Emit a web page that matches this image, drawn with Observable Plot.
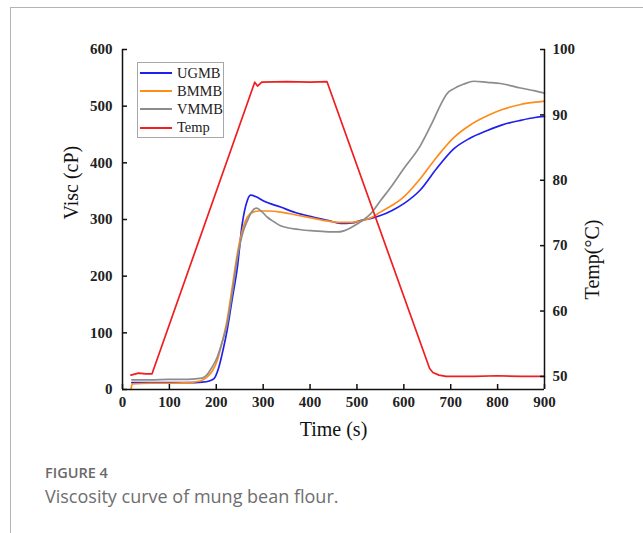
<!DOCTYPE html>
<html><head><meta charset="utf-8">
<script src="https://cdn.jsdelivr.net/npm/d3@7"></script>
<script src="https://cdn.jsdelivr.net/npm/@observablehq/plot@0.6"></script>
<style>
body{margin:0;background:#fff;}
#wrap{position:relative;width:643px;height:533px;overflow:hidden;background:#fff;}
#border{position:absolute;left:10px;top:7px;right:-2px;bottom:-2px;border-top:1px solid #b4b4b4;border-left:1px solid #b4b4b4;}
#chart{position:absolute;left:0;top:0;}
#legend{position:absolute;left:137px;top:62px;width:85px;height:74px;border:1px solid #a8a8a8;background:#fff;font-family:"Liberation Serif";font-size:14.5px;color:#222;}
.item{position:absolute;left:2px;height:18px;display:flex;align-items:center;white-space:nowrap;}
.sw{width:32px;height:2px;margin-right:5px;}
#fig{position:absolute;left:45px;top:466px;font-family:"Open Sans";font-weight:600;font-size:14.5px;line-height:14.5px;color:#6a6a6a;}
#cap{position:absolute;left:45px;top:487px;font-family:"Open Sans";font-size:18px;line-height:18px;color:#6e6e6e;}
</style></head>
<body>
<div id="wrap">
  <div id="border"></div>
  <div id="chart"></div>
  <div id="legend"></div>
  <div id="fig">FIGURE 4</div>
  <div id="cap">Viscosity curve of mung bean flour.</div>
</div>
<script>
// ---- data ----
const seriesNames = ["UGMB", "BMMB", "VMMB", "Temp"];
const seriesColors = ["#2020ee", "#ff8c1a", "#8c8c8c", "#f01e1e"];

const ugmbTime = [20, 60, 100, 140, 170, 185, 195, 205, 215, 223, 234, 245, 255, 266, 273, 285, 300, 337, 370, 408, 440, 465, 490, 507, 530, 550, 575, 600, 635, 670, 707, 740, 778, 810, 849, 880, 900];
const ugmbVisc = [12, 12, 12, 12, 13, 15, 19, 38, 72, 104, 160, 216, 290, 333, 343, 340, 333, 322, 312, 304, 298, 293, 294, 298, 302, 307, 316, 328, 352, 390, 425, 443, 457, 467, 475, 480, 482];

const bmmbTime = [18, 21, 60, 100, 140, 166, 180, 192, 202, 212, 223, 234, 245, 256, 266, 278, 291, 310, 337, 370, 408, 440, 465, 490, 507, 530, 550, 575, 600, 635, 670, 707, 740, 778, 810, 849, 880, 900];
const bmmbVisc = [0, 10, 11, 11, 12, 15, 22, 33, 51, 82, 122, 180, 240, 282, 304, 313, 315, 315, 313, 308, 302, 297, 295, 295, 297, 303, 313, 325, 340, 372, 410, 445, 466, 483, 494, 503, 507, 509];

const vmmbTime = [20, 60, 100, 140, 170, 180, 190, 202, 212, 223, 234, 245, 256, 266, 276, 286, 297, 309, 323, 337, 355, 372, 390, 408, 426, 444, 458, 472, 486, 500, 515, 529, 550, 575, 600, 635, 660, 680, 692, 707, 728, 749, 778, 806, 849, 880, 900];
const vmmbVisc = [17, 17, 18, 18, 20, 26, 38, 57, 82, 115, 170, 232, 275, 297, 314, 320, 314, 304, 296, 289, 285, 283, 281, 280, 279, 278, 278, 280, 285, 292, 300, 310, 333, 360, 390, 430, 470, 505, 522, 531, 539, 544, 542, 540, 532, 527, 523];

const tempTime = [18, 34, 50, 63, 282, 288, 297, 350, 400, 436, 655, 662, 675, 690, 750, 800, 850, 900];
const tempValue = [50.2, 50.5, 50.4, 50.4, 95.0, 94.4, 95.0, 95.1, 95.0, 95.1, 51.2, 50.6, 50.2, 50.0, 50.0, 50.1, 50.0, 50.0];

const xTicks = [0, 100, 200, 300, 400, 500, 600, 700, 800, 900];
const viscTicks = [0, 100, 200, 300, 400, 500, 600];
const tempTicks = [50, 60, 70, 80, 90, 100];
const viscDomain = [0, 600];
const tempDomain = [48, 100];

// ---- build ----
const y2 = d3.scaleLinear(tempDomain, viscDomain);
const zip = (ts, vs, name) => ts.map((t, i) => ({t, v: vs[i], name}));
const visc = [
  ...zip(ugmbTime, ugmbVisc, "UGMB"),
  ...zip(bmmbTime, bmmbVisc, "BMMB"),
  ...zip(vmmbTime, vmmbVisc, "VMMB")
];
const temp = zip(tempTime, tempValue, "Temp");
const colorOf = Object.fromEntries(seriesNames.map((n, i) => [n, seriesColors[i]]));

const chart = Plot.plot({
  width: 643, height: 455,
  marginLeft: 122, marginRight: 99, marginTop: 49, marginBottom: 66,
  x: {domain: [0, 900]},
  y: {domain: viscDomain},
  style: {fontFamily: "Liberation Serif", fontSize: "15px", color: "#222", background: "transparent"},
  marks: [
    Plot.line(visc, {x: "t", y: "v", z: "name", stroke: d => colorOf[d.name], strokeWidth: 1.7, curve: "monotone-x"}),
    Plot.line(temp, {x: "t", y: d => y2(d.v), stroke: colorOf.Temp, strokeWidth: 1.7, curve: "linear"}),
    Plot.ruleX([0, 900], {stroke: "#111", strokeWidth: 1.5}),
    Plot.ruleY([0], {stroke: "#111", strokeWidth: 1.5}),
    Plot.axisX(xTicks, {tickSize: -5, tickPadding: 12, fontWeight: "bold", label: null, stroke: "#111", strokeWidth: 1.5}),
    Plot.axisY(viscTicks, {anchor: "left", tickSize: -5, tickPadding: 15, fontWeight: "bold", label: null, stroke: "#111", strokeWidth: 1.5}),
    Plot.axisY(tempTicks, {anchor: "right", y: y2, tickFormat: d => d, tickSize: -5, tickPadding: 13, fontWeight: "bold", label: null, stroke: "#111", strokeWidth: 1.5}),
    Plot.text(["Time (s)"], {frameAnchor: "bottom", dy: 46, fontSize: 20, fill: "#111"}),
    Plot.text(["Visc (cP)"], {frameAnchor: "left", dx: -51, rotate: -90, fontSize: 20, fill: "#111"}),
    Plot.text(["Temp(°C)"], {frameAnchor: "right", dx: 48, rotate: -90, fontSize: 20, fill: "#111"})
  ]
});
document.getElementById("chart").append(chart);

const legend = document.getElementById("legend");
seriesNames.forEach((n, i) => {
  const it = document.createElement("div");
  it.className = "item";
  it.style.top = (1 + i * 18.2) + "px";
  it.innerHTML = `<div class="sw" style="background:${seriesColors[i]}"></div><span>${n}</span>`;
  legend.append(it);
});
</script>
</body></html>
